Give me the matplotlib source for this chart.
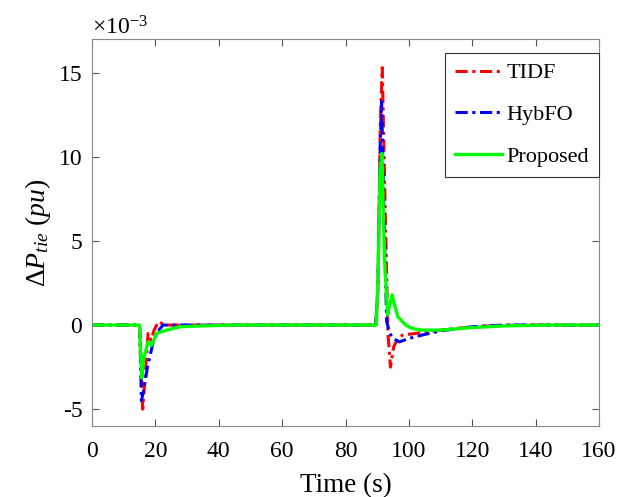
import matplotlib
matplotlib.use("Agg")
import matplotlib.pyplot as plt
from matplotlib.ticker import ScalarFormatter

plt.rcParams["font.family"] = ["Liberation Serif", "DejaVu Serif"]
plt.rcParams["mathtext.fontset"] = "custom"
plt.rcParams["mathtext.rm"] = "Liberation Serif"
plt.rcParams["mathtext.it"] = "Liberation Serif:italic"
plt.rcParams["axes.unicode_minus"] = False

# time (s) and tie-line power deviation (x1e-3 pu)
t_tidf = [0, 15, 15.4, 16.0, 16.6, 17.7, 18.6, 19.6, 21.0, 22.0, 24, 30, 40,
          89.5, 90.2, 91.0, 91.6, 92.4, 93.4, 94.2, 95.2, 96.5, 98, 102, 108,
          115, 125, 135, 160]
tidf = [0, 0, -2.0, -5.0, -3.5, -0.5, -0.9, -0.3, 0.2, 0.1, 0, 0, 0,
        0, 2.0, 12.0, 15.3, 8.0, -0.5, -2.5, -1.3, -0.8, -0.6, -0.5, -0.35,
        -0.2, -0.05, 0, 0]

t_hyb = [0, 15, 15.3, 15.6, 16.4, 17.5, 19.2, 20.7, 22.4, 30, 40,
         89.5, 90.2, 91.0, 91.4, 92.2, 93.0, 94.0, 95.0, 97.0, 100, 104, 110,
         120, 130, 160]
hyb = [0, 0, -2.0, -4.5, -3.8, -2.5, -1.1, -0.4, 0, 0, 0,
       0, 2.0, 11.0, 13.3, 6.0, 0.2, -0.5, -0.8, -1.0, -0.8, -0.6, -0.35,
       -0.1, 0, 0]

t_prop = [0, 15, 15.3, 15.7, 16.3, 17.7, 18.8, 20.4, 23.6, 27.8, 35, 45,
          89.7, 90.3, 90.9, 91.5, 92.3, 93.3, 94.0, 94.7, 95.5, 96.5, 97.5,
          99, 101, 104, 110, 120, 130, 145, 160]
prop = [0, 0, -1.5, -3.15, -2.0, -1.0, -1.2, -0.5, -0.3, -0.1, -0.05, 0,
        0, 3.0, 9.0, 10.2, 4.0, 0.6, 1.2, 1.8, 1.2, 0.5, 0.3,
        0.0, -0.2, -0.3, -0.3, -0.15, -0.05, 0, 0]


class FixedOrder(ScalarFormatter):
    # MATLAB-style: fixed x10^-3 exponent, plain hyphen on tick labels
    def _set_order_of_magnitude(self):
        self.orderOfMagnitude = -3

    def __call__(self, x, pos=None):
        return f"{round(x * 1e3):d}"


fig = plt.figure(figsize=(6.34, 4.97), dpi=100)
ax = fig.add_axes([92 / 634, 1 - 426 / 497, 507 / 634, 387 / 497])

ax.plot(t_tidf, [v * 1e-3 for v in tidf], color="#ff0000", lw=2.2,
        ls=(0, (4, 1.5, 1, 1.5)), label="TIDF")
ax.plot(t_hyb, [v * 1e-3 for v in hyb], color="#0000ff", lw=2.2,
        ls=(0, (4, 1.5, 1, 1.5)), label="HybFO")
ax.plot(t_prop, [v * 1e-3 for v in prop], color="#00ff00", lw=2.4,
        label="Proposed")

ax.set_xlim(0, 160)
ax.set_ylim(-6e-3, 17e-3)
ax.set_xticks(range(0, 161, 20))
ax.set_yticks([-5e-3, 0, 5e-3, 10e-3, 15e-3])
ax.yaxis.set_major_formatter(FixedOrder(useMathText=True))
ax.yaxis.get_offset_text().set_fontsize(17)

ax.tick_params(direction="in", top=True, right=True, labelsize=17,
               length=5, color="#555555")
ax.tick_params(axis="x", pad=11)
ax.tick_params(axis="y", pad=7)
for s in ax.spines.values():
    s.set_color("#888888")
    s.set_linewidth(0.8)

ax.set_xlabel("Time (s)", fontsize=19.5, labelpad=8)
ax.set_ylabel(r"$\Delta P_{tie}\ (pu)$", fontsize=20, labelpad=4)

leg = ax.legend(loc="upper right", bbox_to_anchor=(1.0, 0.964), fontsize=16,
                handlelength=2.1, handletextpad=0.2, labelspacing=0.95,
                borderpad=0.45, borderaxespad=0, fancybox=False,
                framealpha=1)
leg.get_frame().set_edgecolor("#333333")
leg.get_frame().set_linewidth(0.8)

fig.savefig("out.png", dpi=100)
